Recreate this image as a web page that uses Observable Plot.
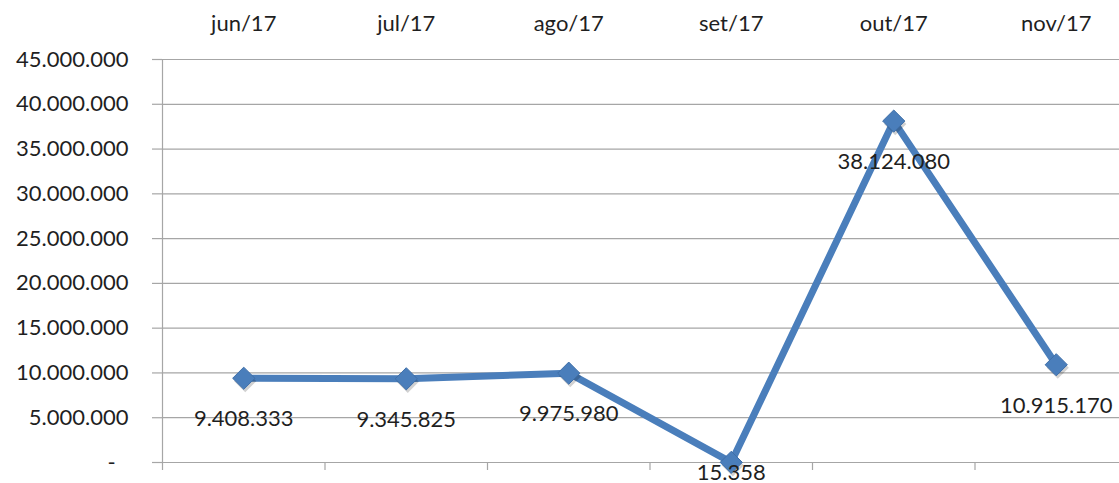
<!DOCTYPE html>
<html>
<head>
<meta charset="utf-8">
<script src="https://cdn.jsdelivr.net/npm/d3@7"></script>
<script src="https://cdn.jsdelivr.net/npm/@observablehq/plot@0.6"></script>
<style>
  html, body { margin: 0; padding: 0; background: #fff; overflow: hidden; }
</style>
</head>
<body>
<div id="chart"></div>
<script>
const categories = ["jun/17", "jul/17", "ago/17", "set/17", "out/17", "nov/17"];
const values = [9408333, 9345825, 9975980, 15358, 38124080, 10915170];
const yTicks = [0, 5000000, 10000000, 15000000, 20000000, 25000000, 30000000, 35000000, 40000000, 45000000];

const data = categories.map((c, i) => ({cat: c, pos: i + 0.5, value: values[i]}));
const fmt = v => v === 0 ? "-\u2007" : d3.format(",")(v).replace(/,/g, ".");

const blue = "#4a7ebb";
const gridColor = "#a6a6a6";
const textColor = "#1f1f1f";

const chart = Plot.plot({
  width: 1119,
  height: 483,
  marginLeft: 162,
  marginRight: -18,
  marginTop: 59,
  marginBottom: 21,
  style: {fontFamily: "Lato, 'Open Sans', sans-serif", fontSize: "22px", color: textColor, background: "#fff", overflow: "visible"},
  x: {domain: [0, 6], range: [162, 1137], label: null},
  y: {domain: [0, 45000000], label: null},
  marks: [
    Plot.gridY(yTicks, {stroke: gridColor, strokeOpacity: 1, strokeWidth: 1.2}),
    Plot.axisY(yTicks, {tickSize: 10, tickPadding: 24, tickFormat: fmt, stroke: gridColor, strokeOpacity: 1, strokeWidth: 1.2, fill: textColor, fontSize: 22, label: null}),
    Plot.ruleX([0], {y1: 0, y2: 45000000, stroke: gridColor, strokeWidth: 1.2}),
    Plot.axisX(d3.range(7), {anchor: "bottom", tickSize: 8, tickFormat: () => "", stroke: gridColor, strokeOpacity: 1, strokeWidth: 1.2, label: null}),
    Plot.axisX(data.map(d => d.pos), {anchor: "top", tickSize: 0, tickPadding: 29, tickFormat: (d, i) => categories[i], fill: textColor, fontSize: 22, label: null}),
    Plot.line(data, {x: "pos", y: "value", stroke: blue, strokeWidth: 7, strokeLinejoin: "miter", strokeLinecap: "butt"}),
    Plot.dot(data, {x: "pos", y: "value", symbol: "diamond2", r: 10, fill: "#000", fillOpacity: 0.18, dx: 1.5, dy: 3}),
    Plot.dot(data, {x: "pos", y: "value", symbol: "diamond2", r: 10, fill: "#4a7ebb", stroke: "#3f6fa8", strokeWidth: 1}),
    Plot.text(data.filter(d => d.value >= 1000000), {x: "pos", y: "value", text: d => fmt(d.value), dy: 41, fill: textColor, fontSize: 22}),
    Plot.text(data.filter(d => d.value < 1000000), {x: "pos", y: "value", text: d => fmt(d.value), dy: 11, fill: textColor, fontSize: 22})
  ]
});
document.getElementById("chart").appendChild(chart);
</script>
</body>
</html>
